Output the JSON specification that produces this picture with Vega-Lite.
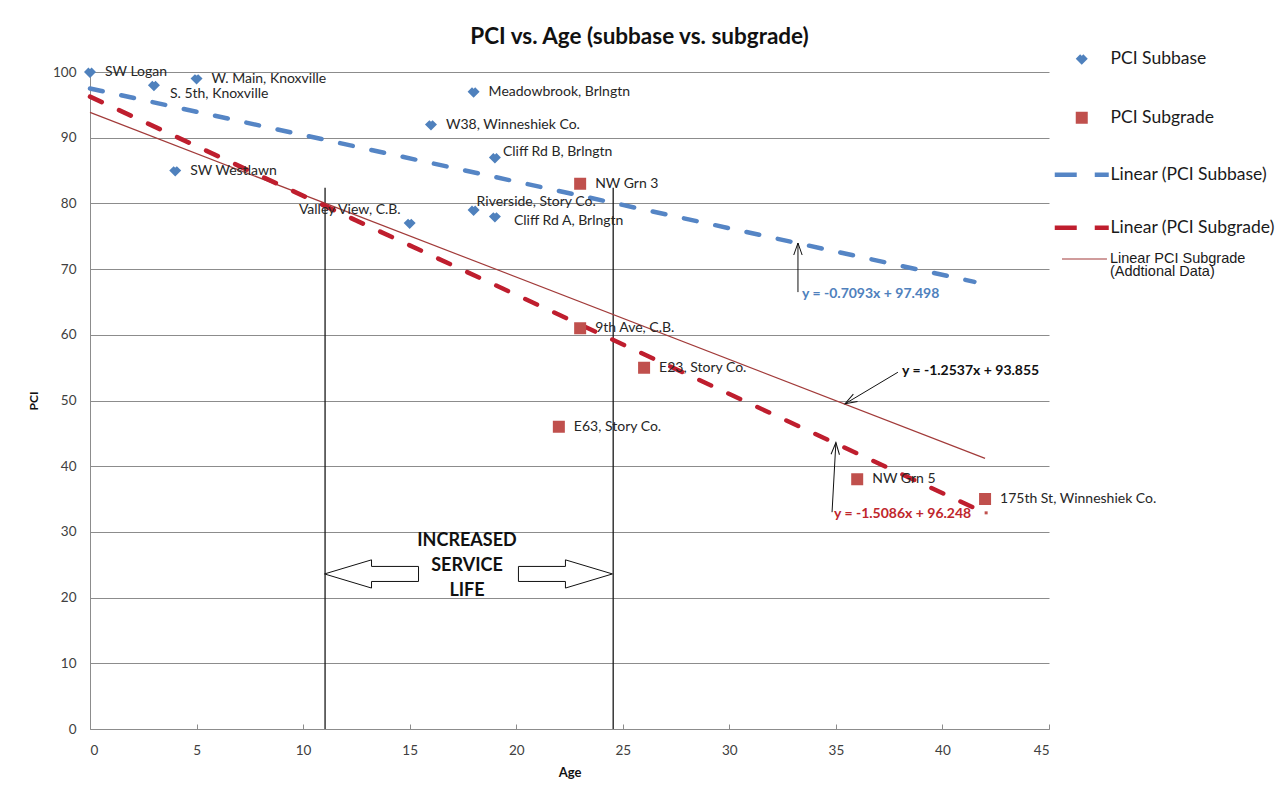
{
  "$schema": "https://vega.github.io/schema/vega-lite/v6.json",
  "autosize": {"type": "none"},
  "width": 959,
  "height": 657,
  "padding": {"left": 90, "top": 72, "right": 236, "bottom": 70},
  "background": "white",
  "title": {
    "text": "PCI vs. Age (subbase vs. subgrade)",
    "anchor": "middle",
    "frame": "group",
    "dx": 70,
    "offset": 2,
    "font": "Lato",
    "fontSize": 22.5,
    "fontWeight": "bold",
    "color": "#111111"
  },
  "config": {
    "view": {"stroke": null},
    "font": "Lato"
  },
  "datasets": {
    "points": [
      {"series": "PCI Subbase", "name": "SW Logan", "age": 0, "pci": 100},
      {"series": "PCI Subbase", "name": "S. 5th, Knoxville", "age": 3, "pci": 98},
      {"series": "PCI Subbase", "name": "W. Main, Knoxville", "age": 5, "pci": 99},
      {"series": "PCI Subbase", "name": "SW Westlawn", "age": 4, "pci": 85},
      {"series": "PCI Subbase", "name": "Valley View, C.B.", "age": 15, "pci": 77},
      {"series": "PCI Subbase", "name": "W38, Winneshiek Co.", "age": 16, "pci": 92},
      {"series": "PCI Subbase", "name": "Meadowbrook, Brlngtn", "age": 18, "pci": 97},
      {"series": "PCI Subbase", "name": "Riverside, Story Co.", "age": 18, "pci": 79},
      {"series": "PCI Subbase", "name": "Cliff Rd B, Brlngtn", "age": 19, "pci": 87},
      {"series": "PCI Subbase", "name": "Cliff Rd A, Brlngtn", "age": 19, "pci": 78},
      {"series": "PCI Subgrade", "name": "E63, Story Co.", "age": 22, "pci": 46},
      {"series": "PCI Subgrade", "name": "NW Grn 3", "age": 23, "pci": 83},
      {"series": "PCI Subgrade", "name": "9th Ave, C.B.", "age": 23, "pci": 61},
      {"series": "PCI Subgrade", "name": "E23, Story Co.", "age": 26, "pci": 55},
      {"series": "PCI Subgrade", "name": "NW Grn 5", "age": 36, "pci": 38},
      {"series": "PCI Subgrade", "name": "175th St, Winneshiek Co.", "age": 42, "pci": 35}
    ],
    "trends": [
      {"series": "Linear (PCI Subbase)", "age": 0, "pci": 97.498},
      {"series": "Linear (PCI Subbase)", "age": 41.5, "pci": 68.06},
      {"series": "Linear (PCI Subgrade)", "age": 0, "pci": 96.248},
      {"series": "Linear (PCI Subgrade)", "age": 41.4, "pci": 33.79},
      {"series": "Linear PCI Subgrade (Addtional Data)", "age": 0, "pci": 93.855},
      {"series": "Linear PCI Subgrade (Addtional Data)", "age": 42, "pci": 41.2}
    ],
    "extraKey": [
      {"age": 45.61, "age2": 47.72, "pci": 71.54, "labelAge": 47.86, "labelPci": 71.5, "text": "Linear PCI Subgrade\n(Addtional Data)"}
    ],
    "vlines": [
      {"age": 11.03, "bottom": 0, "top": 82.4},
      {"age": 24.55, "bottom": 0, "top": 82.4}
    ],
    "blockArrows": [
      {"dir": "left", "age": 13.21, "pci": 23.6},
      {"dir": "right", "age": 22.31, "pci": 23.6}
    ],
    "serviceLife": [
      {"age": 17.69, "pci": 28.6, "text": "INCREASED\nSERVICE\nLIFE"}
    ],
    "pointers": [
      {"eq": "subbase", "age": 33.22, "pci": 66.5, "tipAge": 33.22, "tipPci": 73.97},
      {"eq": "additional", "age": 37.91, "pci": 54.3, "tipAge": 35.43, "tipPci": 49.5},
      {"eq": "subgrade", "age": 34.82, "pci": 33.0, "tipAge": 35.0, "tipPci": 43.6}
    ],
    "equations": [
      {"eq": "subbase", "text": "y = -0.7093x + 97.498", "age": 33.41, "pci": 66.2},
      {"eq": "additional", "text": "y = -1.2537x + 93.855", "age": 38.1, "pci": 54.5},
      {"eq": "subgrade", "text": "y = -1.5086x + 96.248", "age": 34.91, "pci": 32.7}
    ],
    "dots": [
      {"age": 42.05, "pci": 32.9}
    ]
  },
  "layer": [
    {
      "data": {"name": "vlines"},
      "mark": {"type": "rule", "color": "#1a1a1a", "strokeWidth": 1.3},
      "encoding": {
        "x": {"field": "age", "type": "quantitative"},
        "y": {"field": "bottom", "type": "quantitative"},
        "y2": {"field": "top"}
      }
    },
    {
      "data": {"name": "trends"},
      "transform": [{"filter": "datum.series == 'Linear PCI Subgrade (Addtional Data)'"}],
      "mark": {"type": "line", "color": "#A23B3A", "strokeWidth": 1.2},
      "encoding": {
        "x": {"field": "age", "type": "quantitative"},
        "y": {"field": "pci", "type": "quantitative"}
      }
    },
    {
      "data": {"name": "trends"},
      "transform": [{"filter": "datum.series == 'Linear (PCI Subbase)'"}],
      "mark": {"type": "line", "color": "#5585C5", "strokeWidth": 4.5, "strokeCap": "round", "strokeDash": [13, 19]},
      "encoding": {
        "x": {"field": "age", "type": "quantitative"},
        "y": {"field": "pci", "type": "quantitative"}
      }
    },
    {
      "data": {"name": "trends"},
      "transform": [{"filter": "datum.series == 'Linear (PCI Subgrade)'"}],
      "mark": {"type": "line", "color": "#BF1E2E", "strokeWidth": 4.5, "strokeCap": "round", "strokeDash": [13, 19]},
      "encoding": {
        "x": {"field": "age", "type": "quantitative"},
        "y": {"field": "pci", "type": "quantitative"}
      }
    },
    {
      "data": {"name": "extraKey"},
      "mark": {"type": "rule", "color": "#A23B3A", "strokeWidth": 1.2},
      "encoding": {
        "x": {"field": "age", "type": "quantitative"},
        "x2": {"field": "age2"},
        "y": {"field": "pci", "type": "quantitative"}
      }
    },
    {
      "data": {"name": "extraKey"},
      "mark": {"type": "text", "align": "left", "baseline": "middle", "lineBreak": "\n", "lineHeight": 13, "font": "Liberation Sans", "fontSize": 14.5, "color": "#1a1a1a"},
      "encoding": {
        "x": {"field": "labelAge", "type": "quantitative"},
        "y": {"field": "labelPci", "type": "quantitative"},
        "text": {"field": "text"}
      }
    },
    {
      "data": {"name": "points"},
      "mark": {"type": "point", "filled": true, "size": 144, "strokeWidth": 4.5, "opacity": 1},
      "encoding": {
        "x": {
          "field": "age",
          "type": "quantitative",
          "title": "Age",
          "scale": {"domain": [0, 45], "nice": false},
          "axis": {
            "values": [0, 5, 10, 15, 20, 25, 30, 35, 40, 45],
            "grid": false,
            "domainColor": "#8c8c8c",
            "tickColor": "#8c8c8c",
            "tickSize": -5,
            "labelPadding": 19,
            "labelFont": "Lato",
            "labelFontSize": 13.5,
            "labelColor": "#404040",
            "titleFont": "Lato",
            "titleFontSize": 13,
            "titleFontWeight": "bold",
            "titleColor": "#111111",
            "titlePadding": 10
          }
        },
        "y": {
          "field": "pci",
          "type": "quantitative",
          "title": "PCI",
          "scale": {"domain": [0, 100], "nice": false},
          "axis": {
            "values": [0, 10, 20, 30, 40, 50, 60, 70, 80, 90, 100],
            "grid": true,
            "gridColor": "#8c8c8c",
            "gridWidth": 1,
            "domainColor": "#8c8c8c",
            "ticks": false,
            "labelPadding": 14,
            "labelFont": "Lato",
            "labelFontSize": 13.5,
            "labelColor": "#404040",
            "titleFont": "Lato",
            "titleFontSize": 12,
            "titleFontWeight": "bold",
            "titleColor": "#111111",
            "titlePadding": 12
          }
        },
        "color": {
          "field": "series",
          "type": "nominal",
          "scale": {
            "domain": ["PCI Subbase", "PCI Subgrade", "Linear (PCI Subbase)", "Linear (PCI Subgrade)"],
            "range": ["#4F81BD", "#C0504D", "#5585C5", "#BF1E2E"]
          },
          "legend": {
            "title": null,
            "orient": "none",
            "legendX": 983,
            "legendY": -22,
            "padding": 0,
            "rowPadding": 34,
            "symbolSize": 144,
            "symbolStrokeWidth": 4.5,
            "labelOffset": 20,
            "labelFont": "Lato",
            "labelFontSize": 17.5,
            "labelColor": "#1a1a1a",
            "labelLimit": 300
          }
        },
        "stroke": {
          "field": "series",
          "type": "nominal",
          "scale": {
            "domain": ["PCI Subbase", "PCI Subgrade", "Linear (PCI Subbase)", "Linear (PCI Subgrade)"],
            "range": ["#4F81BD", "#C0504D", "#5585C5", "#BF1E2E"]
          },
          "legend": {"title": null}
        },
        "shape": {
          "field": "series",
          "type": "nominal",
          "scale": {
            "domain": ["PCI Subbase", "PCI Subgrade", "Linear (PCI Subbase)", "Linear (PCI Subgrade)"],
            "range": [
              "M 0 -0.47 L 0.47 0 L 0 0.47 L -0.47 0 Z",
              "M -0.625 -0.625 L 0.625 -0.625 L 0.625 0.625 L -0.625 0.625 Z",
              "M -4.5 0 L 4.5 0",
              "M -4.5 0 L 4.5 0"
            ]
          },
          "legend": {"title": null}
        },
        "strokeDash": {
          "field": "series",
          "type": "nominal",
          "scale": {
            "domain": ["PCI Subbase", "PCI Subgrade", "Linear (PCI Subbase)", "Linear (PCI Subgrade)"],
            "range": [[1000, 0], [1000, 0], [22, 18], [22, 18]]
          },
          "legend": {"title": null}
        }
      }
    },
    {
      "data": {"name": "dots"},
      "mark": {"type": "point", "shape": "square", "filled": true, "size": 9, "color": "#C0504D", "opacity": 1},
      "encoding": {
        "x": {"field": "age", "type": "quantitative"},
        "y": {"field": "pci", "type": "quantitative"}
      }
    },
    {
      "data": {"name": "points"},
      "transform": [{"filter": {"field": "name", "oneOf": ["SW Logan", "W. Main, Knoxville", "Meadowbrook, Brlngtn", "W38, Winneshiek Co.", "SW Westlawn", "NW Grn 3", "9th Ave, C.B.", "E23, Story Co.", "E63, Story Co.", "NW Grn 5", "175th St, Winneshiek Co."]}}],
      "mark": {"type": "text", "align": "left", "baseline": "middle", "dx": 15, "font": "Lato", "fontSize": 14, "color": "#262626"},
      "encoding": {
        "x": {"field": "age", "type": "quantitative"},
        "y": {"field": "pci", "type": "quantitative"},
        "text": {"field": "name"}
      }
    },
    {
      "data": {"name": "points"},
      "transform": [{"filter": "datum.name == 'S. 5th, Knoxville'"}],
      "mark": {"type": "text", "align": "left", "baseline": "middle", "dx": 16, "dy": 9, "font": "Lato", "fontSize": 14, "color": "#262626"},
      "encoding": {
        "x": {"field": "age", "type": "quantitative"},
        "y": {"field": "pci", "type": "quantitative"},
        "text": {"field": "name"}
      }
    },
    {
      "data": {"name": "points"},
      "transform": [{"filter": "datum.name == 'Cliff Rd B, Brlngtn'"}],
      "mark": {"type": "text", "align": "left", "baseline": "middle", "dx": 8, "dy": -5, "font": "Lato", "fontSize": 14, "color": "#262626"},
      "encoding": {
        "x": {"field": "age", "type": "quantitative"},
        "y": {"field": "pci", "type": "quantitative"},
        "text": {"field": "name"}
      }
    },
    {
      "data": {"name": "points"},
      "transform": [{"filter": "datum.name == 'Riverside, Story Co.'"}],
      "mark": {"type": "text", "align": "left", "baseline": "middle", "dx": 3, "dy": -8, "font": "Lato", "fontSize": 14, "color": "#262626"},
      "encoding": {
        "x": {"field": "age", "type": "quantitative"},
        "y": {"field": "pci", "type": "quantitative"},
        "text": {"field": "name"}
      }
    },
    {
      "data": {"name": "points"},
      "transform": [{"filter": "datum.name == 'Cliff Rd A, Brlngtn'"}],
      "mark": {"type": "text", "align": "left", "baseline": "middle", "dx": 19, "dy": 4, "font": "Lato", "fontSize": 14, "color": "#262626"},
      "encoding": {
        "x": {"field": "age", "type": "quantitative"},
        "y": {"field": "pci", "type": "quantitative"},
        "text": {"field": "name"}
      }
    },
    {
      "data": {"name": "points"},
      "transform": [{"filter": "datum.name == 'Valley View, C.B.'"}],
      "mark": {"type": "text", "align": "right", "baseline": "middle", "dx": -9, "dy": -13, "font": "Lato", "fontSize": 14, "color": "#262626"},
      "encoding": {
        "x": {"field": "age", "type": "quantitative"},
        "y": {"field": "pci", "type": "quantitative"},
        "text": {"field": "name"}
      }
    },
    {
      "data": {"name": "blockArrows"},
      "transform": [{"filter": "datum.dir == 'left'"}],
      "mark": {"type": "point", "shape": "M -1 0 L 0 -0.3 L 0 -0.16 L 1 -0.16 L 1 0.16 L 0 0.16 L 0 0.3 Z", "size": 8836, "filled": true, "fill": "white", "stroke": "#111111", "strokeWidth": 1, "opacity": 1},
      "encoding": {
        "x": {"field": "age", "type": "quantitative"},
        "y": {"field": "pci", "type": "quantitative"}
      }
    },
    {
      "data": {"name": "blockArrows"},
      "transform": [{"filter": "datum.dir == 'right'"}],
      "mark": {"type": "point", "shape": "M 1 0 L 0 -0.3 L 0 -0.16 L -1 -0.16 L -1 0.16 L 0 0.16 L 0 0.3 Z", "size": 8836, "filled": true, "fill": "white", "stroke": "#111111", "strokeWidth": 1, "opacity": 1},
      "encoding": {
        "x": {"field": "age", "type": "quantitative"},
        "y": {"field": "pci", "type": "quantitative"}
      }
    },
    {
      "data": {"name": "serviceLife"},
      "mark": {"type": "text", "align": "center", "baseline": "middle", "lineBreak": "\n", "lineHeight": 25, "font": "Lato", "fontSize": 18, "fontWeight": "bold", "color": "#111111"},
      "encoding": {
        "x": {"field": "age", "type": "quantitative"},
        "y": {"field": "pci", "type": "quantitative"},
        "text": {"field": "text"}
      }
    },
    {
      "data": {"name": "pointers"},
      "mark": {"type": "rule", "color": "#111111", "strokeWidth": 1},
      "encoding": {
        "x": {"field": "age", "type": "quantitative"},
        "y": {"field": "pci", "type": "quantitative"},
        "x2": {"field": "tipAge"},
        "y2": {"field": "tipPci"}
      }
    },
    {
      "data": {"name": "pointers"},
      "transform": [{"filter": "datum.eq == 'subbase'"}],
      "mark": {"type": "point", "shape": "M -0.7 2 L 0 0 L 0.7 2", "size": 144, "filled": false, "stroke": "#111111", "strokeWidth": 1, "angle": 0, "opacity": 1},
      "encoding": {
        "x": {"field": "tipAge", "type": "quantitative"},
        "y": {"field": "tipPci", "type": "quantitative"}
      }
    },
    {
      "data": {"name": "pointers"},
      "transform": [{"filter": "datum.eq == 'subgrade'"}],
      "mark": {"type": "point", "shape": "M -0.7 2 L 0 0 L 0.7 2", "size": 144, "filled": false, "stroke": "#111111", "strokeWidth": 1, "angle": 3, "opacity": 1},
      "encoding": {
        "x": {"field": "tipAge", "type": "quantitative"},
        "y": {"field": "tipPci", "type": "quantitative"}
      }
    },
    {
      "data": {"name": "pointers"},
      "transform": [{"filter": "datum.eq == 'additional'"}],
      "mark": {"type": "point", "shape": "M -0.7 2 L 0 0 L 0.7 2", "size": 144, "filled": false, "stroke": "#111111", "strokeWidth": 1, "angle": 240, "opacity": 1},
      "encoding": {
        "x": {"field": "tipAge", "type": "quantitative"},
        "y": {"field": "tipPci", "type": "quantitative"}
      }
    },
    {
      "data": {"name": "equations"},
      "mark": {"type": "text", "align": "left", "baseline": "middle", "font": "Lato", "fontSize": 14, "fontWeight": "bold"},
      "encoding": {
        "x": {"field": "age", "type": "quantitative"},
        "y": {"field": "pci", "type": "quantitative"},
        "text": {"field": "text"},
        "fill": {
          "field": "eq",
          "type": "nominal",
          "scale": {"domain": ["subbase", "additional", "subgrade"], "range": ["#4F81BD", "#111111", "#C0262C"]},
          "legend": null
        }
      }
    }
  ]
}
